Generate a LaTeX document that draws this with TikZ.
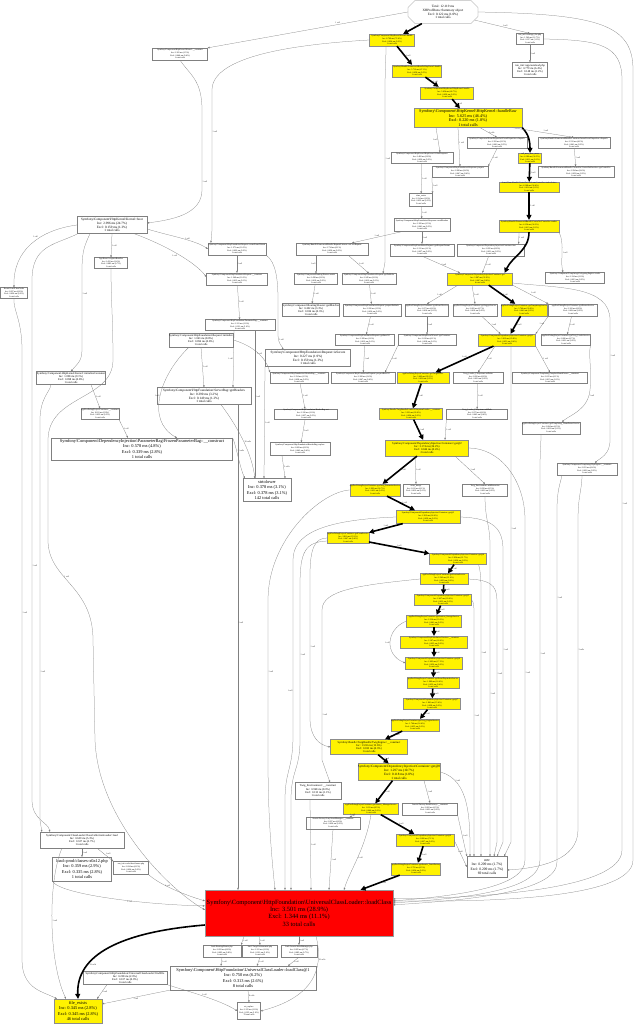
\documentclass[tikz,border=0pt]{standalone}
\usepackage{fontspec}
\setmainfont{Liberation Serif}
\usetikzlibrary{arrows.meta,shapes.misc}
\newcommand\bsl{\textbackslash}
\newcommand\fnta{\fontsize{2.1}{2.55}\selectfont}
\newcommand\fntab{\fontsize{2.8}{3.3}\selectfont}
\newcommand\fntb{\fontsize{3.3}{3.9}\selectfont}
\newcommand\fntc{\fontsize{4.2}{4.5}\selectfont}
\newcommand\fntd{\fontsize{4.4}{5.4}\selectfont}
\newcommand\fntf{\fontsize{3.6}{4.5}\selectfont}
\newcommand\fnte{\fontsize{6.4}{7.4}\selectfont}

\begin{document}
\begin{tikzpicture}[x=1pt,y=-1pt,
  sz/.style 2 args={minimum width=#1,minimum height=#2},
  fn/.style={draw=black!50,line width=.25pt,fill=white,inner sep=.3pt,align=center,font=\fnta},
  hot/.style={fn,fill=yellow,draw=black!45},
  call/.style={draw=black!50,line width=.25pt,-{Triangle[length=2pt,width=1.6pt]}},
  hotcall/.style={draw=black,line width=1.6pt,-{Triangle[length=5pt,width=5pt]}},
  lbl/.style={font=\fnta,inner sep=.5pt,text=black!85}]
\useasboundingbox (0,0) rectangle (638,1024);
\fill[white] (0,0) rectangle (638,1024);

\node[fn,chamfered rectangle,chamfered rectangle xsep=4pt,sz={70}{23},font=\fntb] (main) at (443,12) {Total: 12.119 ms\\XHProfRuns::Summary object\\Excl: 0.122 ms (1.0\%)\\1 total calls};
\node[fn,sz={55}{12}] (A0) at (180,54) {Symfony\bsl Component\bsl HttpKernel\bsl Kernel::\_\_construct\\Inc: 0.181 ms (1.5\%)\\Excl: 0.046 ms (0.4\%)\\1 total calls};
\node[hot,sz={45}{12}] (kHandle) at (392,40) {Symfony\bsl Component\bsl HttpKernel\bsl Kernel::handle\\Inc: 8.769 ms (72.4\%)\\Excl: 0.024 ms (0.2\%)\\1 total calls};
\node[fn,sz={27}{11}] (A2) at (530,39) {run\_init::web/app\_dev.php\\Inc: 1.542 ms (12.7\%)\\Excl: 0.137 ms (1.1\%)\\1 total calls};
\node[hot,sz={49}{12}] (B1) at (417,71) {Symfony\bsl Bundle\bsl FrameworkBundle\bsl HttpKernel::handle\\Inc: 5.712 ms (47.1\%)\\Excl: 0.058 ms (0.5\%)\\1 total calls};
\node[fn,sz={35}{15},font=\fntab] (B2) at (530,70) {run\_init::app/autoload.php\\Inc: 0.779 ms (6.4\%)\\Excl: 0.148 ms (1.2\%)\\1 total calls};
\node[hot,sz={53}{12}] (C1) at (447,93) {Symfony\bsl Component\bsl HttpKernel\bsl HttpKernel::handle\\Inc: 5.654 ms (46.7\%)\\Excl: 0.029 ms (0.2\%)\\1 total calls};
\node[hot,sz={108}{19},font=\fntc] (handleRaw) at (468,118) {Symfony\bsl Component\bsl HttpKernel\bsl HttpKernel::handleRaw\\Inc: 5.625 ms (46.4\%)\\Excl: 0.220 ms (1.8\%)\\1 total calls};
\node[fn,sz={60}{11}] (E1) at (497,143) {Symfony\bsl Component\bsl EventDispatcher\bsl EventDispatcher::dispatch\\Inc: 0.393 ms (3.2\%)\\Excl: 0.062 ms (0.5\%)\\2 total calls};
\node[fn,sz={72}{11}] (E2) at (574,143) {Symfony\bsl Bundle\bsl FrameworkBundle\bsl ContainerAwareEventDispatcher::dispatch\\Inc: 0.512 ms (4.2\%)\\Excl: 0.041 ms (0.3\%)\\2 total calls};
\node[fn,sz={62}{11}] (F1) at (422,158) {Symfony\bsl Component\bsl HttpKernel\bsl HttpKernel::filterResponse\\Inc: 0.462 ms (3.8\%)\\Excl: 0.020 ms (0.2\%)\\1 total calls};
\node[hot,sz={23}{10}] (F2) at (530,158) {call\_user\_func\_array\\Inc: 4.180 ms (34.5\%)\\Excl: 0.011 ms (0.1\%)\\1 total calls};
\node[fn,sz={56}{11}] (G1) at (460,172) {Symfony\bsl Component\bsl HttpFoundation\bsl Response::prepare\\Inc: 0.288 ms (2.4\%)\\Excl: 0.047 ms (0.4\%)\\1 total calls};
\node[fn,sz={76}{11}] (G2) at (576,172) {Symfony\bsl Bundle\bsl FrameworkBundle\bsl Controller\bsl ControllerResolver::getController\\Inc: 0.294 ms (2.4\%)\\Excl: 0.038 ms (0.3\%)\\1 total calls};
\node[hot,sz={60}{10}] (H1) at (529,187) {Acme\bsl DemoBundle\bsl Controller\bsl WelcomeController::indexAction\\Inc: 4.168 ms (34.4\%)\\Excl: 0.014 ms (0.1\%)\\1 total calls};
\node[fn,sz={23}{13}] (I1) at (421,200) {class\_exists\\Inc: 0.214 ms (1.8\%)\\Excl: 0.032 ms (0.3\%)\\3 total calls};
\node[fn,sz={56}{13}] (J1) at (422,225) {Symfony\bsl Component\bsl HttpFoundation\bsl Response::sendHeaders\\Inc: 0.182 ms (1.5\%)\\Excl: 0.041 ms (0.3\%)\\1 total calls};
\node[hot,sz={60}{12}] (J2) at (529,226) {Symfony\bsl Bundle\bsl FrameworkBundle\bsl Controller\bsl Controller::render\\Inc: 4.154 ms (34.3\%)\\Excl: 0.013 ms (0.1\%)\\1 total calls};
\node[fn,sz={70}{17},font=\fntb] (boot) at (112,225) {Symfony\bsl Component\bsl HttpKernel\bsl Kernel::boot\\Inc: 2.996 ms (24.7\%)\\Excl: 0.159 ms (1.3\%)\\1 total calls};
\node[fn,sz={33}{11}] (K0) at (111,263) {AppKernel::registerBundles\\Inc: 0.412 ms (3.4\%)\\Excl: 0.083 ms (0.7\%)\\1 total calls};
\node[fn,sz={58}{12}] (K1) at (237,249) {Symfony\bsl Component\bsl HttpFoundation\bsl Request::createFromGlobals\\Inc: 1.271 ms (10.5\%)\\Excl: 0.022 ms (0.2\%)\\1 total calls};
\node[fn,sz={72}{12}] (K2) at (332,249) {Symfony\bsl Bundle\bsl FrameworkBundle\bsl RequestListener::onCoreRequest\\Inc: 0.734 ms (6.1\%)\\Excl: 0.036 ms (0.3\%)\\1 total calls};
\node[fn,sz={64}{12}] (K3) at (422,250) {Symfony\bsl Component\bsl HttpFoundation\bsl Request::getRequestFormat\\Inc: 0.131 ms (1.1\%)\\Excl: 0.027 ms (0.2\%)\\1 total calls};
\node[fn,sz={67}{12}] (K4) at (491,250) {Symfony\bsl Component\bsl DependencyInjection\bsl Container::has\\Inc: 0.095 ms (0.8\%)\\Excl: 0.031 ms (0.3\%)\\2 total calls};
\node[fn,sz={27}{11}] (L0) at (14,293) {Kernel::loadClassCache\\Inc: 0.097 ms (0.8\%)\\Excl: 0.020 ms (0.2\%)\\1 total calls};
\node[fn,sz={61}{12}] (L1) at (237,279) {Symfony\bsl Component\bsl HttpFoundation\bsl Request::\_\_construct\\Inc: 1.249 ms (10.3\%)\\Excl: 0.015 ms (0.1\%)\\1 total calls};
\node[fn,sz={43}{11}] (L2) at (316,279) {Symfony\bsl Component\bsl Routing\bsl Router::match\\Inc: 0.438 ms (3.6\%)\\Excl: 0.019 ms (0.2\%)\\1 total calls};
\node[fn,sz={54}{11}] (L3) at (369,279) {Symfony\bsl Component\bsl HttpFoundation\bsl Request::getPathInfo\\Inc: 0.245 ms (2.0\%)\\Excl: 0.012 ms (0.1\%)\\2 total calls};
\node[hot,sz={65}{12}] (L4) at (480,279) {Symfony\bsl Component\bsl DependencyInjection\bsl Container::get\\Inc: 3.987 ms (32.9\%)\\Excl: 0.067 ms (0.6\%)\\4 total calls};
\node[fn,sz={59}{11}] (L5) at (575,278) {Symfony\bsl Component\bsl Templating\bsl DelegatingEngine::render\\Inc: 0.124 ms (1.0\%)\\Excl: 0.023 ms (0.2\%)\\1 total calls};
\node[fn,sz={57}{13},font=\fntab] (M1) at (311,310) {Symfony\bsl Component\bsl Routing\bsl Router::getMatcher\\Inc: 0.402 ms (3.3\%)\\Excl: 0.036 ms (0.3\%)\\1 total calls};
\node[fn,sz={58}{12}] (M2) at (372,310) {Symfony\bsl Component\bsl HttpFoundation\bsl Request::preparePathInfo\\Inc: 0.226 ms (1.9\%)\\Excl: 0.030 ms (0.2\%)\\1 total calls};
\node[fn,sz={43}{12}] (M3) at (427,310) {appDevDebugProjectContainer::getKernelService\\Inc: 0.073 ms (0.6\%)\\Excl: 0.016 ms (0.1\%)\\1 total calls};
\node[fn,sz={44}{12}] (M4) at (475,310) {appDevDebugProjectContainer::getLoggerService\\Inc: 0.081 ms (0.7\%)\\Excl: 0.019 ms (0.2\%)\\1 total calls};
\node[hot,sz={44}{12}] (M5) at (524,310) {appDevDebugProjectContainer::getTemplatingService\\Inc: 3.746 ms (30.9\%)\\Excl: 0.042 ms (0.3\%)\\1 total calls};
\node[fn,sz={49}{12}] (M6) at (573,310) {appDevDebugProjectContainer::getRouterService\\Inc: 0.102 ms (0.8\%)\\Excl: 0.024 ms (0.2\%)\\1 total calls};
\node[fn,sz={70}{11}] (N1) at (240,325) {Symfony\bsl Component\bsl HttpFoundation\bsl ParameterBag::\_\_construct\\Inc: 0.121 ms (1.0\%)\\Excl: 0.121 ms (1.0\%)\\6 total calls};
\node[fn,sz={64}{14},font=\fntab] (O1) at (201,340) {Symfony\bsl Component\bsl HttpFoundation\bsl Request::initialize\\Inc: 1.063 ms (8.8\%)\\Excl: 0.094 ms (0.8\%)\\1 total calls};
\node[fn,sz={59}{11}] (O2) at (365,340) {Symfony\bsl Component\bsl HttpFoundation\bsl Request::getBaseUrl\\Inc: 0.189 ms (1.6\%)\\Excl: 0.012 ms (0.1\%)\\1 total calls};
\node[fn,sz={58}{11}] (O3) at (427,340) {Symfony\bsl Component\bsl HttpKernel\bsl Kernel::getContainer\\Inc: 0.018 ms (0.1\%)\\Excl: 0.018 ms (0.1\%)\\1 total calls};
\node[hot,sz={57}{12}] (O4) at (507,340) {Symfony\bsl Component\bsl DependencyInjection\bsl Container::get@1\\Inc: 3.612 ms (29.8\%)\\Excl: 0.051 ms (0.4\%)\\3 total calls};
\node[fn,sz={49}{11}] (O5) at (566,340) {appDevDebugProjectContainer::getTwig\_LoaderService\\Inc: 0.086 ms (0.7\%)\\Excl: 0.021 ms (0.2\%)\\1 total calls};
\node[fn,sz={85}{17},font=\fntb] (P1) at (308,358) {Symfony\bsl Component\bsl HttpFoundation\bsl Request::isSecure\\Inc: 0.227 ms (1.9\%)\\Excl: 0.159 ms (1.3\%)\\1 total calls};
\node[fn,sz={69}{13},font=\fntab] (Q0) at (71,378) {Symfony\bsl Component\bsl HttpKernel\bsl Kernel::initializeContainer\\Inc: 1.098 ms (9.1\%)\\Excl: 0.098 ms (0.8\%)\\1 total calls};
\node[fn,sz={58}{11}] (Q1) at (299,378) {Symfony\bsl Component\bsl HttpFoundation\bsl HeaderBag::\_\_construct\\Inc: 0.154 ms (1.3\%)\\Excl: 0.028 ms (0.2\%)\\1 total calls};
\node[fn,sz={64}{11}] (Q2) at (363,378) {Symfony\bsl Component\bsl HttpFoundation\bsl Request::prepareBaseUrl\\Inc: 0.168 ms (1.4\%)\\Excl: 0.047 ms (0.4\%)\\1 total calls};
\node[hot,sz={52}{11}] (Q3) at (423,378) {appDevDebugProjectContainer::getTwigService\\Inc: 3.402 ms (28.1\%)\\Excl: 0.038 ms (0.3\%)\\1 total calls};
\node[fn,sz={50}{11}] (Q4) at (478,378) {Twig\_Loader\_Filesystem::setPaths\\Inc: 0.092 ms (0.8\%)\\Excl: 0.020 ms (0.2\%)\\1 total calls};
\node[fn,sz={75}{11}] (Q5) at (550,378) {Symfony\bsl Component\bsl Templating\bsl TemplateNameParser::\_\_construct\\Inc: 0.015 ms (0.1\%)\\Excl: 0.015 ms (0.1\%)\\1 total calls};
\node[fn,sz={94}{17},font=\fntb] (R1) at (204,396) {Symfony\bsl Component\bsl HttpFoundation\bsl ServerBag::getHeaders\\Inc: 0.390 ms (3.2\%)\\Excl: 0.149 ms (1.2\%)\\1 total calls};
\node[fn,sz={36}{11}] (S0) at (100,414) {appDevDebugProjectContainer::\_\_construct\\Inc: 0.611 ms (5.0\%)\\Excl: 0.033 ms (0.3\%)\\1 total calls};
\node[fn,sz={63}{10}] (S1) at (306,414) {Symfony\bsl Component\bsl HttpFoundation\bsl HeaderBag::set\\Inc: 0.126 ms (1.0\%)\\Excl: 0.057 ms (0.5\%)\\1 total calls};
\node[hot,sz={63}{11}] (S2) at (411,414) {Symfony\bsl Bundle\bsl TwigBundle\bsl Loader\bsl FilesystemLoader::\_\_construct\\Inc: 3.221 ms (26.6\%)\\Excl: 0.024 ms (0.2\%)\\1 total calls};
\node[fn,sz={61}{10}] (S3) at (477,414) {Twig\_Loader\_Filesystem::addPath\\Inc: 0.072 ms (0.6\%)\\Excl: 0.043 ms (0.4\%)\\1 total calls};
\node[fn,sz={56}{12}] (T1) at (551,428) {appDevDebugProjectContainer::getTemplating\_NameParserService\\Inc: 0.064 ms (0.5\%)\\Excl: 0.018 ms (0.1\%)\\1 total calls};
\node[fn,sz={181}{22},font=\fntd] (U0) at (142,449) {Symfony\bsl Component\bsl DependencyInjection\bsl ParameterBag\bsl FrozenParameterBag::\_\_construct\\Inc: 0.578 ms (4.8\%)\\Excl: 0.339 ms (2.8\%)\\1 total calls};
\node[fn,sz={60}{13}] (U1) at (300,449) {Symfony\bsl Component\bsl HttpFoundation\bsl HeaderBag::replace\\Inc: 0.069 ms (0.6\%)\\Excl: 0.043 ms (0.4\%)\\1 total calls};
\node[hot,sz={83}{16},font=\fntab] (U2) at (427,448) {Symfony\bsl Component\bsl DependencyInjection\bsl Container::get@2\\Inc: 3.174 ms (26.2\%)\\Excl: 0.044 ms (0.4\%)\\2 total calls};
\node[fn,sz={60}{12}] (V1) at (587,469) {Symfony\bsl Component\bsl Templating\bsl PhpEngine::\_\_construct\\Inc: 0.051 ms (0.4\%)\\Excl: 0.022 ms (0.2\%)\\1 total calls};
\node[fn,sz={48}{23},font=\fntd] (strtolower) at (267,490) {strtolower\\Inc: 0.378 ms (3.1\%)\\Excl: 0.378 ms (3.1\%)\\142 total calls};
\node[hot,sz={50}{12}] (W1) at (375,490) {appDevDebugProjectContainer::getTwig\_ExtensionService\\Inc: 2.993 ms (24.7\%)\\Excl: 0.031 ms (0.3\%)\\1 total calls};
\node[fn,sz={26}{12}] (W2) at (416,490) {array\_merge\\Inc: 0.012 ms (0.1\%)\\Excl: 0.012 ms (0.1\%)\\2 total calls};
\node[fn,sz={45}{12}] (W3) at (485,490) {Twig\_Environment::addExtension\\Inc: 0.058 ms (0.5\%)\\Excl: 0.022 ms (0.2\%)\\1 total calls};
\node[hot,sz={64}{13}] (X1) at (428,517) {Symfony\bsl Component\bsl DependencyInjection\bsl Container::get@3\\Inc: 2.912 ms (24.0\%)\\Excl: 0.039 ms (0.3\%)\\2 total calls};
\node[hot,sz={40}{11}] (Y1) at (348,538) {appDevDebugProjectContainer::getFormService\\Inc: 2.811 ms (23.2\%)\\Excl: 0.047 ms (0.4\%)\\1 total calls};
\node[hot,sz={57}{11}] (Z1) at (458,559) {Symfony\bsl Component\bsl DependencyInjection\bsl Container::get@4\\Inc: 2.634 ms (21.7\%)\\Excl: 0.036 ms (0.3\%)\\2 total calls};
\node[hot,sz={48}{11}] (Z2) at (444,579) {appDevDebugProjectContainer::getSessionService\\Inc: 2.542 ms (21.0\%)\\Excl: 0.029 ms (0.2\%)\\1 total calls};
\node[hot,sz={57}{11}] (Z3) at (443,600) {Symfony\bsl Component\bsl DependencyInjection\bsl Container::get@5\\Inc: 2.427 ms (20.0\%)\\Excl: 0.033 ms (0.3\%)\\2 total calls};
\node[hot,sz={55}{12}] (Z4) at (434,621) {appDevDebugProjectContainer::getSession\_StorageService\\Inc: 2.336 ms (19.3\%)\\Excl: 0.041 ms (0.3\%)\\1 total calls};
\node[hot,sz={67}{12}] (Z5) at (434,642) {Symfony\bsl Component\bsl HttpFoundation\bsl Session::\_\_construct\\Inc: 2.187 ms (18.0\%)\\Excl: 0.025 ms (0.2\%)\\1 total calls};
\node[hot,sz={57}{12}] (Z6) at (434,663) {Symfony\bsl Component\bsl DependencyInjection\bsl Container::get@6\\Inc: 2.093 ms (17.3\%)\\Excl: 0.030 ms (0.2\%)\\2 total calls};
\node[hot,sz={52}{11}] (Z7) at (433,683) {appDevDebugProjectContainer::getEventDispatcherService\\Inc: 1.989 ms (16.4\%)\\Excl: 0.052 ms (0.4\%)\\1 total calls};
\node[hot,sz={57}{11}] (Z8) at (432,704) {Symfony\bsl Component\bsl DependencyInjection\bsl Container::get@7\\Inc: 1.861 ms (15.4\%)\\Excl: 0.028 ms (0.2\%)\\1 total calls};
\node[hot,sz={43}{12}] (Z9) at (415,725) {appDevDebugProjectContainer::getTwig\_EngineService\\Inc: 1.744 ms (14.4\%)\\Excl: 0.035 ms (0.3\%)\\1 total calls};
\node[hot,sz={77}{15},font=\fntab] (twig) at (369,747) {Symfony\bsl Bundle\bsl TwigBundle\bsl TwigEngine::\_\_construct\\Inc: 1.530 ms (12.6\%)\\Excl: 0.033 ms (0.3\%)\\1 total calls};
\node[hot,sz={78}{17},font=\fntb] (get8) at (399,772) {Symfony\bsl Component\bsl DependencyInjection\bsl Container::get@8\\Inc: 1.297 ms (10.7\%)\\Excl: 0.118 ms (1.0\%)\\1 total calls};
\node[fn,sz={46}{17},font=\fntab] (TwigEnv) at (318,791) {Twig\_Environment::\_\_construct\\Inc: 0.968 ms (8.0\%)\\Excl: 0.133 ms (1.1\%)\\1 total calls};
\node[hot,sz={55}{11}] (AA1) at (371,809) {appDevDebugProjectContainer::getAssetic\_ManagerService\\Inc: 1.031 ms (8.5\%)\\Excl: 0.040 ms (0.3\%)\\1 total calls};
\node[fn,sz={55}{12}] (AA2) at (430,809) {Assetic\bsl Factory\bsl AssetFactory::\_\_construct\\Inc: 0.062 ms (0.5\%)\\Excl: 0.021 ms (0.2\%)\\1 total calls};
\node[fn,sz={54}{12}] (AB1) at (333,823) {Assetic\bsl Factory\bsl LazyAssetManager::\_\_construct\\Inc: 0.097 ms (0.8\%)\\Excl: 0.026 ms (0.2\%)\\1 total calls};
\node[hot,sz={58}{12}] (AC1) at (425,840) {Symfony\bsl Component\bsl DependencyInjection\bsl Container::get@9\\Inc: 0.866 ms (7.1\%)\\Excl: 0.027 ms (0.2\%)\\1 total calls};
\node[fn,sz={84}{16},font=\fntab] (CCL) at (82,840) {Symfony\bsl Component\bsl ClassLoader\bsl ClassCollectionLoader::load\\Inc: 0.639 ms (5.3\%)\\Excl: 0.327 ms (2.7\%)\\1 total calls};
\node[hot,sz={43}{12}] (AD1) at (416,869) {appDevDebugProjectContainer::getAssetic\_AssetFactory\\Inc: 0.791 ms (6.5\%)\\Excl: 0.034 ms (0.3\%)\\1 total calls};
\node[fn,sz={59}{24},font=\fntd] (loadprod) at (82,869) {load::prod/classes-x0a12.php\\Inc: 0.359 ms (2.9\%)\\Excl: 0.335 ms (2.8\%)\\1 total calls};
\node[fn,sz={35}{13}] (AE) at (131,868) {run\_init::cache/dev/classes.php\\Inc: 0.024 ms (0.2\%)\\Excl: 0.024 ms (0.2\%)\\1 total calls};
\node[fn,sz={40}{21},font=\fntf] (strtr) at (487,867) {strtr\\Inc: 0.209 ms (1.7\%)\\Excl: 0.209 ms (1.7\%)\\69 total calls};
\node[fill=red,draw=black!40,line width=.25pt,align=center,inner sep=.3pt,sz={188}{46},font=\fnte] (red) at (299,913) {Symfony\bsl Component\bsl HttpFoundation\bsl UniversalClassLoader::loadClass\\Inc: 3.501 ms (28.9\%)\\Excl: 1.344 ms (11.1\%)\\33 total calls};
\node[fn,sz={38}{12}] (BB1) at (222,951) {load::Routing/Router.php\\Inc: 0.093 ms (0.8\%)\\Excl: 0.093 ms (0.8\%)\\1 total calls};
\node[fn,sz={35}{12}] (BB2) at (260,951) {load::Twig/Environment.php\\Inc: 0.121 ms (1.0\%)\\Excl: 0.121 ms (1.0\%)\\1 total calls};
\node[fn,sz={36}{12}] (BB3) at (299,951) {load::Assetic/AssetManager.php\\Inc: 0.085 ms (0.7\%)\\Excl: 0.085 ms (0.7\%)\\1 total calls};
\node[fn,sz={84}{13},font=\fntab] (BB0) at (125,978) {Symfony\bsl Component\bsl HttpFoundation\bsl UniversalClassLoader::findFile\\Inc: 0.238 ms (2.0\%)\\Excl: 0.107 ms (0.9\%)\\1 total calls};
\node[fn,sz={146}{24},font=\fntd] (ucl1) at (243,978) {Symfony\bsl Component\bsl HttpFoundation\bsl UniversalClassLoader::loadClass@1\\Inc: 0.750 ms (6.2\%)\\Excl: 0.313 ms (2.6\%)\\8 total calls};
\node[hot,sz={48}{24},font=\fntd] (fileexists) at (78,1011) {file\_exists\\Inc: 0.345 ms (2.8\%)\\Excl: 0.345 ms (2.8\%)\\46 total calls};
\node[fn,sz={23}{17}] (strreplace) at (249,1011) {str\_replace\\Inc: 0.125 ms (1.0\%)\\Excl: 0.125 ms (1.0\%)\\78 total calls};

% heavy path
\draw[hotcall] (main) -- (kHandle) node[lbl,midway,above right]{1 call};
\draw[hotcall] (kHandle) -- (B1) node[lbl,midway,right]{1 call};
\draw[hotcall] (B1) -- (C1) node[lbl,midway,right]{1 call};
\draw[hotcall] (C1) -- (handleRaw) node[lbl,midway,right]{1 call};
\draw[hotcall] (handleRaw.south east) to[out=-45,in=90] (F2.north);
\draw[hotcall] (F2) -- (H1) node[lbl,midway,right]{1 call};
\draw[hotcall] (H1) -- (J2) node[lbl,midway,right]{1 call};
\draw[hotcall] (J2.south) to[out=-90,in=65] ([xshift=-8pt]L4.north east);
\draw[hotcall] (L4) -- (M5) node[lbl,midway,right]{1 call};
\draw[hotcall] (M5) -- (O4) node[lbl,midway,right]{1 call};
\draw[hotcall] (O4) -- (Q3) node[lbl,midway,above]{1 call};
\draw[hotcall] (Q3) -- (S2) node[lbl,midway,right]{1 call};
\draw[hotcall] (S2) -- (U2) node[lbl,midway,right]{1 call};
\draw[hotcall] (U2) -- (W1) node[lbl,midway,right]{1 call};
\draw[hotcall] (W1) -- (X1) node[lbl,midway,right]{1 call};
\draw[hotcall] (X1) -- (Y1) node[lbl,midway,above]{1 call};
\draw[hotcall] (Y1) -- (Z1) node[lbl,midway,above]{1 call};
\foreach \a/\b in {Z1/Z2,Z2/Z3,Z3/Z4,Z4/Z5,Z5/Z6,Z6/Z7,Z7/Z8,Z8/Z9}
  \draw[hotcall] (\a) -- (\b) node[lbl,midway,right]{1 call};
\draw[hotcall] (Z9) -- (twig) node[lbl,midway,right]{1 call};
\draw[hotcall] (twig) -- (get8) node[lbl,midway,right]{1 call};
\draw[hotcall] (get8) -- (AA1) node[lbl,midway,right]{1 call};
\draw[hotcall] (AA1) -- (AC1) node[lbl,midway,right]{1 call};
\draw[hotcall] (AC1) -- (AD1) node[lbl,midway,right]{1 call};
\draw[hotcall] (AD1) -- (red) node[lbl,midway,right]{1 call};
\draw[hotcall] ([yshift=-12pt]red.west) .. controls (120,932) and (76,955) .. (fileexists.north) node[lbl,pos=.7,right]{22 calls};

% top
\draw[call] (main.west) -- (A0.north east) node[lbl,pos=.35,above]{1 call};
\draw[call] (main.south east) -- (A2.north) node[lbl,midway,above right]{1 call};
\draw[call] (A2) -- (B2) node[lbl,midway,right]{1 call};
\draw[call] (main.east) .. controls (600,14) and (633,25) .. (633,70) -- (633,860) .. controls (633,900) and (480,902) .. ([yshift=-11pt]red.north east);
\draw[call] (A2.east) .. controls (600,40) and (622,45) .. (622,80) -- (622,850) node[lbl,pos=.55,right]{1 call} .. controls (622,890) and (480,898) .. ([yshift=-9pt]red.north east);
\draw[call] (kHandle.west) .. controls (300,44) and (212,55) .. (212,90) -- (212,230) node[lbl,pos=.3,right]{1 call} -- ([xshift=3pt]K1.north west);
\draw[call] (A0.south) .. controls (190,75) and (202,80) .. (202,110) -- (202,190) node[lbl,pos=.9,right]{1 call} .. controls (202,215) and (170,220) .. ([yshift=2pt]boot.east);
\draw[call] ([xshift=-6pt]kHandle.south) .. controls (386,60) and (385,70) .. (385,90) -- (385,262) node[lbl,pos=.4,right]{1 call} -- ([xshift=14pt]L3.north);

% boot and the left side
\draw[call] (boot.west) .. controls (40,230) and (13,250) .. (L0.north) node[lbl,pos=.4,above left]{1 call};
\draw[call] ([xshift=-34pt]boot.south) .. controls (55,245) and (32,245) .. (32,280) -- (32,800) node[lbl,pos=.55,right]{1 call} .. controls (32,820) and (48,822) .. ([xshift=10pt]CCL.north west);
\draw[call] ([xshift=-22pt]boot.south) .. controls (85,245) and (82,250) .. (82,270) -- (82,350) node[lbl,pos=.3,right]{1 call} .. controls (82,362) and (76,365) .. (Q0.north);
\draw[call] (boot.south) -- (K0.north) node[lbl,midway,right]{1 call};
\draw[call] ([yshift=-4pt]boot.east) .. controls (170,236) and (195,240) .. (K1.west) node[lbl,pos=.6,above]{1 call};
\draw[call] ([xshift=22pt]boot.south) .. controls (165,245) and (195,262) .. ([yshift=2pt]L1.west) node[lbl,pos=.5,below left]{1 call};
\draw[call] (K0.south) .. controls (111,300) and (113,320) .. (113,360) .. controls (113,400) and (48,395) .. (48,440) -- (48,540) .. controls (48,580) and (93,585) .. (93,640) node[lbl,pos=.4,right]{1 call} -- (95,740) .. controls (98,820) and (170,890) .. ([yshift=-20pt]red.north west);
\draw[call] ([xshift=-20pt]Q0.south) .. controls (50,392) and (40,398) .. (40,420) -- (40,820) node[lbl,pos=.63,right]{1 call} -- ([xshift=2pt]CCL.north west);
\draw[call] (L0.south) .. controls (13,310) and (22,320) .. (22,350) -- (22,960) node[lbl,pos=.43,right]{1 call} .. controls (22,990) and (45,992) .. ([xshift=3pt]fileexists.north west);
\draw[call] ([xshift=20pt]Q0.south) -- (S0.north) node[lbl,midway,right]{1 call};
\draw[call] (S0.south east) -- ([xshift=-14pt]U0.north) node[lbl,midway,right]{1 call};

% request and router
\draw[call] (K1) -- (L1) node[lbl,midway,right]{1 call};
\draw[call] (L1) -- (N1) node[lbl,midway,right]{1 call};
\draw[call] ([xshift=-6pt]N1.south) -- ([xshift=29pt]R1.north) node[lbl,midway,left]{1 call};
\draw[call] ([xshift=15pt]N1.south) -- ([xshift=-12pt]strtolower.north) node[lbl,pos=.45,right]{1 call};
\draw[call] (O1.south) -- (R1.north) node[lbl,midway,right]{1 call};
\draw[call] (O1.east) .. controls (250,345) and (265,355) .. (Q1.north west) node[lbl,pos=.6,above]{1 call};
\draw[call] ([xshift=-12pt]O1.south) .. controls (160,375) and (145,420) .. ([xshift=35pt]U0.north) node[lbl,pos=.5,left]{1 call};
\draw[call] (U0.north east) .. controls (236,445) and (240,468) .. ([xshift=2pt]strtolower.north west) node[lbl,pos=.4,above right]{15 calls};
\draw[call] ([xshift=17pt]R1.south) .. controls (240,430) and (252,455) .. ([xshift=12pt]strtolower.north west) node[lbl,pos=.5,right]{38 calls};
\draw[call] ([xshift=34pt]R1.south) -- ([xshift=-61pt]red.north) node[lbl,pos=.45,right]{1 call};
\draw[call] (K1.south east) .. controls (276,262) and (278,280) .. (278,300) -- (278,335) .. controls (278,345) and (284,348) .. ([xshift=16pt]P1.north west) node[lbl,pos=.2,right]{1 call};
\draw[call] ([xshift=-43pt]P1.south) -- ([xshift=-3pt]strtolower.north) node[lbl,midway,right]{1 call};
\draw[call] (Q1) -- (S1) node[lbl,midway,right]{1 call};
\draw[call] (S1) -- (U1) node[lbl,midway,right]{1 call};
\draw[call] ([xshift=-18pt]U1.south) -- ([xshift=-6pt]strtolower.north east) node[lbl,midway,right]{3 calls};
\draw[call] ([xshift=-16pt]K2.south) -- (L2.north) node[lbl,midway,left]{1 call};
\draw[call] ([xshift=16pt]K2.south) -- (L3.north) node[lbl,midway,right]{1 call};
\draw[call] (L2) -- (M1) node[lbl,midway,right]{1 call};
\draw[call] (L3) -- (M2) node[lbl,midway,right]{1 call};
\draw[call] (M2) -- (O2) node[lbl,midway,right]{1 call};
\draw[call] (O2) -- (Q2) node[lbl,midway,right]{1 call};
\draw[call] (O3.south west) -- ([xshift=22pt]Q2.north) node[lbl,midway,right]{1 call};

% handleRaw
\draw[call] ([xshift=-32pt]handleRaw.south) -- ([xshift=18pt]F1.north) node[lbl,midway,left]{1 call};
\draw[call] ([xshift=-10pt]handleRaw.south) -- (G1.north) node[lbl,pos=.4,right]{1 call};
\draw[call] ([xshift=12pt]handleRaw.south) -- (E1.north) node[lbl,midway,right]{2 calls};
\draw[call] ([xshift=44pt]handleRaw.south) -- (E2.north) node[lbl,midway,above right]{1 call};
\draw[call] (E1.south) -- (G1.north east) node[lbl,midway,right]{1 call};
\draw[call] (E2) -- (G2) node[lbl,midway,right]{1 call};
\draw[call] (F1) -- (I1) node[lbl,midway,right]{1 call};
\draw[call] (G1.south west) -- (I1.north east) node[lbl,midway,right]{1 call};
\draw[call] (I1) -- (J1) node[lbl,midway,right]{1 call};
\draw[call] (J1) -- (K3) node[lbl,midway,right]{1 call};
\draw[call] ([xshift=-20pt]J1.south) -- ([xshift=20pt]K2.north) node[lbl,midway,above]{1 call};
\draw[call] ([xshift=-10pt]J2.south) -- ([xshift=-6pt]K4.north east) node[lbl,midway,right]{1 call};
\draw[call] (J2.south east) .. controls (565,245) and (560,260) .. ([xshift=-12pt]L5.north) node[lbl,pos=.5,right]{1 call};

% container
\draw[call] (K3.south) -- ([xshift=-20pt]L4.north) node[lbl,midway,right]{1 call};
\draw[call] (K4) -- (L4) node[lbl,midway,right]{1 call};
\draw[call] ([xshift=-22pt]L4.south) -- (M3.north) node[lbl,midway,left]{1 call};
\draw[call] ([xshift=-8pt]L4.south) -- (M4.north) node[lbl,midway,right]{1 call};
\draw[call] (L4.south east) -- (M6.north west) node[lbl,midway,above right]{1 call};
\draw[call] ([yshift=-4pt]L4.east) .. controls (560,288) and (610,286) .. (610,320) -- (610,440) node[lbl,pos=.3,right]{1 call} .. controls (610,455) and (600,458) .. ([xshift=8pt]V1.north);
\draw[call] (M3) -- (O3) node[lbl,midway,right]{1 call};
\draw[call] (M4) -- (O4) node[lbl,midway,right]{1 call};
\draw[call] (M6.south west) -- (O4.north east) node[lbl,midway,above]{1 call};
\draw[call] (M6) -- (O5) node[lbl,midway,right]{1 call};
\draw[call] ([xshift=-12pt]O4.south) -- (Q4.north) node[lbl,midway,right]{1 call};
\draw[call] (O4.south east) -- (Q5.north) node[lbl,midway,right]{1 call};
\draw[call] ([xshift=4pt]O4.south) -- (511,360) -- (511,842) node[lbl,pos=.35,right]{1 call} -- ([xshift=-3pt]strtr.north east);
\draw[call] (O5.south east) .. controls (588,352) and (592,370) .. (590,390) .. controls (588,410) and (570,415) .. ([xshift=11pt]T1.north) node[lbl,pos=.1,right]{1 call};
\draw[call] (Q4) -- (S3) node[lbl,midway,right]{1 call};
\draw[call] (S3.south west) -- ([xshift=18pt]U2.north) node[lbl,midway,right]{1 call};
\draw[call] ([xshift=-10pt]T1.south) .. controls (541,445) and (540,450) .. (540,470) -- (540,860) node[lbl,pos=.47,right]{1 call} .. controls (540,890) and (470,898) .. ([yshift=-13pt]red.north east);
\draw[call] ([xshift=-25pt]V1.south) .. controls (560,485) and (557,490) .. (557,510) -- (557,862) node[lbl,pos=.25,right]{1 call} .. controls (557,892) and (470,900) .. ([yshift=-15pt]red.north east);
\draw[call] ([xshift=-5pt]V1.south) .. controls (582,490) and (578,495) .. (578,520) -- (578,830) node[lbl,pos=.42,right]{3 calls} .. controls (578,860) and (540,868) .. ([yshift=-3pt]strtr.east);
\draw[call] (U2.east) .. controls (500,448) and (525,480) .. (525,520) -- (525,860) node[lbl,pos=.45,right]{1 call} .. controls (525,885) and (470,895) .. ([yshift=-11pt]red.north east);
\draw[call] ([xshift=28pt]U2.south) -- (W3.north) node[lbl,midway,right]{1 call};
\draw[call] ([xshift=-12pt]U2.south) -- (W2.north) node[lbl,midway,right]{1 call};

% right hand calls to strtr
\draw[call] (W3.south) .. controls (485,520) and (490,525) .. (490,545) -- (490,842) node[lbl,pos=.5,right]{1 call} -- ([xshift=3pt]strtr.north);
\draw[call] (X1.east) .. controls (495,518) and (503,530) .. (503,550) -- (503,842) node[lbl,pos=.34,right]{1 call} -- ([xshift=10pt]strtr.north);
\draw[call] ([xshift=-8pt]Z1.south east) .. controls (480,570) and (481,575) .. (481,590) -- (481,842) node[lbl,pos=.25,right]{1 call} -- ([xshift=-6pt]strtr.north);
\draw[call] (Z2.east) .. controls (497,580) and (497,590) .. (497,605) -- (497,842) node[lbl,pos=.29,right]{1 call} -- ([xshift=7pt]strtr.north);
\draw[call] (Z3.east) .. controls (474,602) and (474,606) .. (474,620) -- (474,842) node[lbl,pos=.43,right]{1 call} -- ([xshift=-13pt]strtr.north);
\draw[call] (get8.east) .. controls (470,780) and (470,820) .. ([xshift=-17pt]strtr.north) node[lbl,pos=.2,right]{1 call};
\draw[call] ([xshift=25pt]get8.south) -- (AA2.north) node[lbl,midway,right]{1 call};
\draw[call] (AA2.south east) -- (strtr.north west) node[lbl,midway,right]{1 call};
\draw[call] (AC1.east) -- (strtr.west) node[lbl,midway,above]{1 call};

% left hand calls to the class loader
\draw[call] (Z4.west) .. controls (385,630) and (385,655) .. (Z6.west) node[lbl,pos=.5,left]{1 call};
\draw[call] (Y1.west) .. controls (315,538) and (310,548) .. (310,575) -- (310,718) node[lbl,pos=.5,right]{1 call} .. controls (310,738) and (320,745) .. (twig.west);
\draw[call] ([yshift=-3pt]Y1.west) .. controls (305,542) and (300,552) .. (300,585) -- (300,740) node[lbl,pos=.45,right]{1 call} .. controls (300,770) and (291,770) .. (291,800) -- ([xshift=-8pt]red.north);
\draw[call] (X1.west) .. controls (320,520) and (293,535) .. (293,560) -- (293,735) node[lbl,pos=.75,left]{1 call} .. controls (293,770) and (285,770) .. (285,800) -- ([xshift=-14pt]red.north);
\draw[call] (W1.west) .. controls (320,492) and (268,540) .. (268,600) -- (268,760) node[lbl,pos=.45,right]{1 call} .. controls (268,820) and (272,860) .. ([xshift=-24pt]red.north);
\draw[call] (Z2.west) .. controls (360,585) and (322,590) .. (322,610) -- (322,760) node[lbl,pos=.7,right]{1 call} -- ([xshift=12pt]TwigEnv.north);
\draw[call] ([xshift=-8pt]TwigEnv.south) -- ([xshift=12pt]red.north) node[lbl,midway,right]{1 call};
\draw[call] (AB1.south) -- ([xshift=30pt]red.north) node[lbl,midway,right]{1 call};
\draw[call] (AA1) -- (AB1) node[lbl,midway,above]{1 call};
\draw[call] (AA1.south) .. controls (365,850) and (350,870) .. ([xshift=45pt]red.north) node[lbl,pos=.5,right]{1 call};

% bottom
\draw[call] (CCL) -- (loadprod) node[lbl,midway,right]{1 call};
\draw[call] ([xshift=15pt]CCL.south) -- (AE.north west) node[lbl,midway,above right]{1 call};
\draw[call] ([xshift=-20pt]CCL.south) .. controls (48,880) and (48,960) .. ([xshift=-12pt]fileexists.north) node[lbl,pos=.5,right]{1 call};
\draw[call] (AE.south east) .. controls (160,885) and (185,895) .. ([yshift=-11pt]red.north west) node[lbl,pos=.4,above]{1 call};
\draw[call] (loadprod.south west) .. controls (60,895) and (150,905) .. ([yshift=-16pt]red.north west) node[lbl,pos=.6,below]{1 call};
\draw[call] ([xshift=-55pt]red.south) -- (BB1.north east) node[lbl,midway,right]{1 call};
\draw[call] ([xshift=-40pt]red.south) -- (BB2.north) node[lbl,midway,right]{1 call};
\draw[call] (red.south) -- (BB3.north) node[lbl,midway,right]{1 call};
\draw[call] ([xshift=17pt]red.south) .. controls (322,960) and (322,995) .. (strreplace.east) node[lbl,pos=.3,right]{10 calls};
\draw[call] (BB1.south) -- ([xshift=-22pt]ucl1.north) node[lbl,midway,right]{1 call};
\draw[call] (BB2.south) -- ([xshift=14pt]ucl1.north) node[lbl,midway,right]{1 call};
\draw[call] (BB3.south) -- ([xshift=45pt]ucl1.north) node[lbl,midway,right]{1 call};
\draw[call] ([xshift=5pt]ucl1.south) -- (strreplace.north) node[lbl,midway,right]{8 calls};
\draw[call] (ucl1.south west) -- ([yshift=-5pt]fileexists.north east) node[lbl,midway,below]{1 call};
\draw[call] ([xshift=-18pt]BB0.south) -- ([xshift=19pt]fileexists.north) node[lbl,midway,right]{1 call};
\draw[call] (BB0.south east) .. controls (190,992) and (220,1000) .. (strreplace.west) node[lbl,pos=.5,above]{1 call};
\end{tikzpicture}
\end{document}
